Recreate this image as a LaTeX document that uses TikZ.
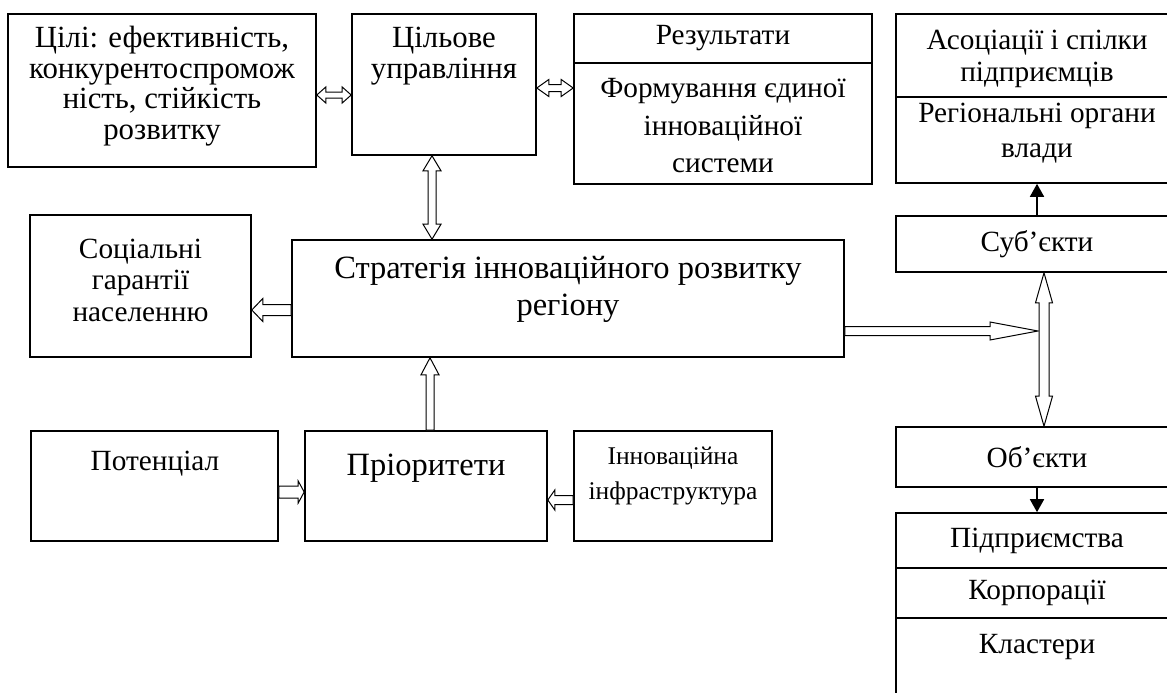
\documentclass[tikz,border=0pt]{standalone}
\usepackage{fontspec}
\setmainfont{Liberation Serif}
\usetikzlibrary{arrows.meta, calc}

\newcommand{\txtsz}[1]{\fontsize{29.3}{#1}\selectfont}
\newcommand{\bigsz}[1]{\fontsize{32.5}{#1}\selectfont}

\begin{document}
\begin{tikzpicture}[x=1pt, y=-1pt, thick,
  hlink/.style={draw, fill=white, line width=1pt, line join=miter},
  % hollow arrow: half shaft, head length, half head width
  hollow/.style n args={3}{hlink, to path={let \p1=(\tikztostart), \p2=(\tikztotarget),
    \n1={veclen(\x2-\x1,\y2-\y1)}, \n2={(\x2-\x1)/\n1}, \n3={(\y2-\y1)/\n1} in
    ({\x1-#1*\n3},{\y1+#1*\n2})
    -- ({\x2-#2*\n2-#1*\n3},{\y2-#2*\n3+#1*\n2})
    -- ({\x2-#2*\n2-#3*\n3},{\y2-#2*\n3+#3*\n2})
    -- (\p2)
    -- ({\x2-#2*\n2+#3*\n3},{\y2-#2*\n3-#3*\n2})
    -- ({\x2-#2*\n2+#1*\n3},{\y2-#2*\n3-#1*\n2})
    -- ({\x1+#1*\n3},{\y1-#1*\n2}) -- cycle}},
  dhollow/.style n args={3}{hlink, to path={let \p1=(\tikztostart), \p2=(\tikztotarget),
    \n1={veclen(\x2-\x1,\y2-\y1)}, \n2={(\x2-\x1)/\n1}, \n3={(\y2-\y1)/\n1} in
    (\p1)
    -- ({\x1+#2*\n2-#3*\n3},{\y1+#2*\n3+#3*\n2})
    -- ({\x1+#2*\n2-#1*\n3},{\y1+#2*\n3+#1*\n2})
    -- ({\x2-#2*\n2-#1*\n3},{\y2-#2*\n3+#1*\n2})
    -- ({\x2-#2*\n2-#3*\n3},{\y2-#2*\n3+#3*\n2})
    -- (\p2)
    -- ({\x2-#2*\n2+#3*\n3},{\y2-#2*\n3-#3*\n2})
    -- ({\x2-#2*\n2+#1*\n3},{\y2-#2*\n3-#1*\n2})
    -- ({\x1+#2*\n2+#1*\n3},{\y1+#2*\n3-#1*\n2})
    -- ({\x1+#2*\n2+#3*\n3},{\y1+#2*\n3-#3*\n2}) -- cycle}},
  plink/.style={-{Triangle[length=13pt, width=14pt]}, line width=1.6pt}]

\tikzstyle{box}=[rectangle, draw, line width=1.6pt, inner sep=0pt, align=center, font=\txtsz{30.5}]
\tikzstyle{lbl}=[align=center, inner sep=0pt, font=\txtsz{30.5}]

\useasboundingbox (0,0) rectangle (1167,693);

	% top row
	\node[box, minimum width=308pt, minimum height=153pt] (goals) at (162,90.5) {};
	\node[lbl, font=\fontsize{30.8}{30.5}\selectfont] (goals-t) at (162,86) {Цілі: ефективність,\\ конкурентоспромож\\ ність, стійкість\\ розвитку};
	\node[box, minimum width=184pt, minimum height=141pt] (cu) at (444,84.5) {};
	\node[lbl, font=\fontsize{30.8}{30.5}\selectfont] (cu-t) at (444,56) {Цільове\\ управління};
	\node[box, minimum width=298pt, minimum height=49pt] (res-h) at (723,38.5) {Результати};
	\node[box, minimum width=298pt, minimum height=121pt] (res) at (723,123.5) {};
	\node[lbl, font=\txtsz{37.5}] (res-t) at (723,126) {Формування єдиної\\ інноваційної\\ системи};

	% subjects
	\node[box, minimum width=282pt, minimum height=83pt] (assoc) at (1037,55.5) {};
	\node[lbl, font=\txtsz{32}] (assoc-t) at (1037,59) {Асоціації і спілки\\ підприємців};
	\node[box, minimum width=282pt, minimum height=86pt] (reg) at (1037,140) {};
	\node[lbl, font=\txtsz{35}] (reg-t) at (1037,133) {Регіональні органи\\ влади};
	\node[box, minimum width=282pt, minimum height=56pt] (subj) at (1037,244) {Суб’єкти};

	% strategy
	\node[box, minimum width=221pt, minimum height=142pt] (soc) at (140.5,286) {};
	\node[lbl, font=\txtsz{31.5}] (soc-t) at (140.5,280) {Соціальні\\ гарантії\\ населенню};
	\node[box, minimum width=552pt, minimum height=117pt] (strat) at (568,298.5) {};
	\node[lbl, font=\bigsz{37}] (strat-t) at (568,289) {Стратегія інноваційного розвитку\\ регіону};
	\coordinate (hub) at (1038,331);

	% objects
	\node[box, minimum width=282pt, minimum height=60pt] (obj) at (1037,457) {Об’єкти};
	\node[box, minimum width=282pt, minimum height=55pt] (firms) at (1037,540.5) {Підприємства};
	\node[box, minimum width=282pt, minimum height=50pt] (corp) at (1037,593) {Корпорації};
	\node[box, minimum width=282pt, minimum height=102pt] (clust) at (1037,669) {};
	\node[lbl] (clust-t) at (1037,647) {Кластери};

	% bottom row
	\node[box, minimum width=247pt, minimum height=110pt] (pot) at (154.5,486) {};
	\node[lbl] (pot-t) at (155,464) {Потенціал};
	\node[box, minimum width=242pt, minimum height=110pt] (prio) at (426,486) {};
	\node[lbl, font=\bigsz{37}] (prio-t) at (426,468) {Пріоритети};
	\node[box, minimum width=198pt, minimum height=110pt] (infra) at (673,486) {};
	\node[lbl, font=\fontsize{25.5}{35}\selectfont] (infra-t) at (673,476) {Інноваційна\\ інфраструктура};

	% hollow links
	\draw[dhollow={3pt}{9pt}{8pt}] (goals.east |- 0,95) to (cu.west |- 0,95);
	\draw[dhollow={3.5pt}{12pt}{8.5pt}] (cu.east |- 0,88) to (res.west |- 0,88);
	\draw[dhollow={4pt}{15pt}{9pt}] (cu.south -| 432,0) to (strat.north -| 432,0);
	\draw[hollow={5.5pt}{11pt}{11.5pt}] (strat.west |- 0,310) to (soc.east |- 0,310);
	\draw[hollow={4.5pt}{48pt}{9pt}] (strat.east |- 0,331) to (hub);
	\draw[dhollow={5pt}{30pt}{8.5pt}] (subj.south -| 1044,0) to (obj.north -| 1044,0);
	\draw[hollow={6pt}{6pt}{11pt}] (pot.east |- 0,492) to (prio.west |- 0,492);
	\draw[hollow={4.5pt}{7pt}{10pt}] (infra.west |- 0,500) to (prio.east |- 0,500);
	\draw[hollow={4pt}{17pt}{9pt}] (prio.north -| 430,0) to (strat.south -| 430,0);

	% plain links
	\draw[plink] (subj) -- (reg);
	\draw[plink] (obj) -- (firms);
\end{tikzpicture}
\end{document}
